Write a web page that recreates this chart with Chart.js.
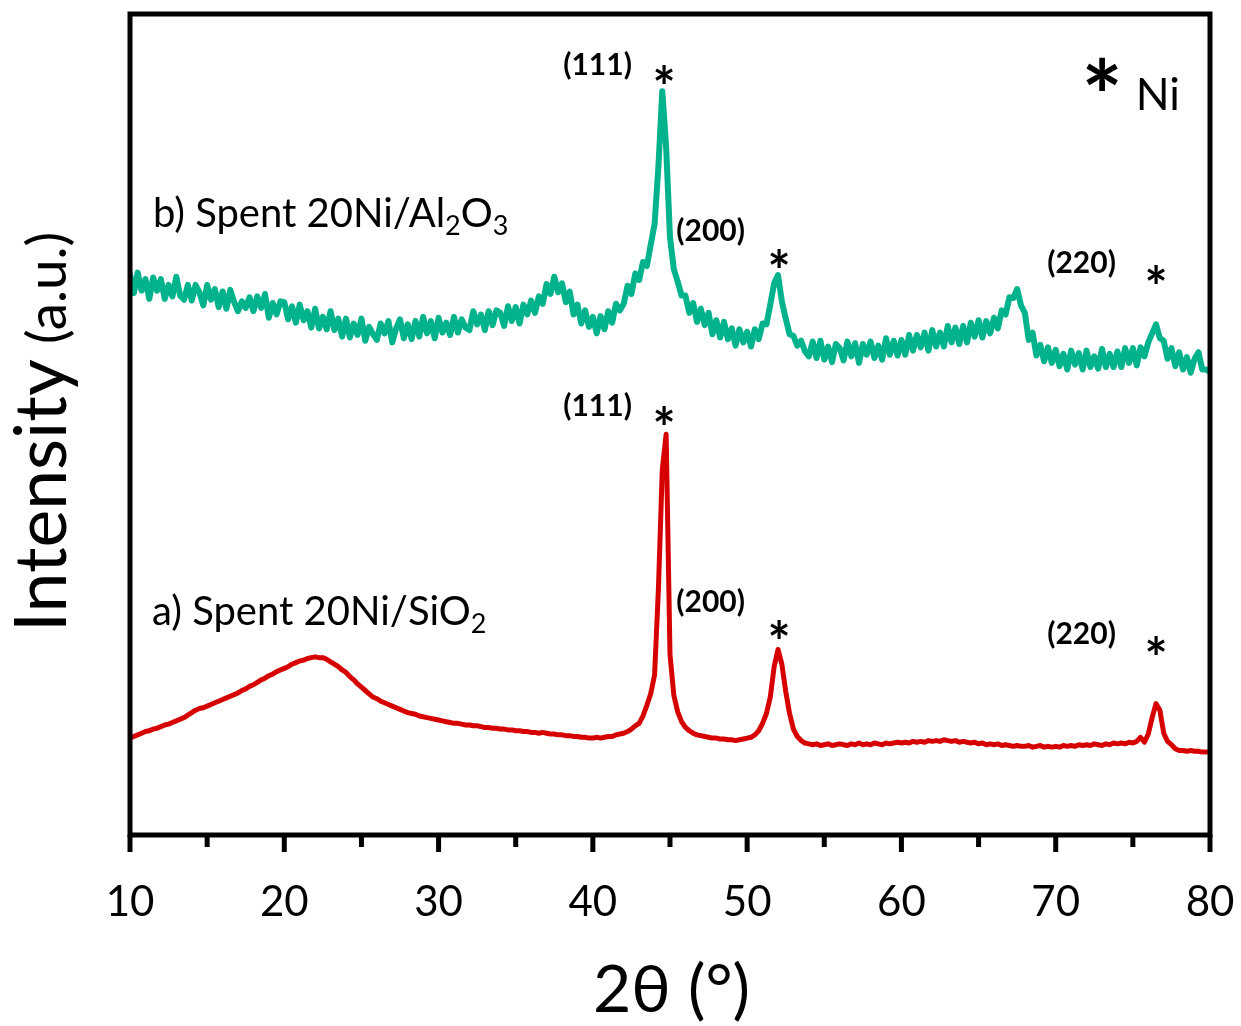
<!DOCTYPE html>
<html><head><meta charset="utf-8">
<script src="https://cdn.jsdelivr.net/npm/chart.js@4.4.1/dist/chart.umd.min.js"></script>
<style>html,body{margin:0;padding:0;background:#fff;}#wrap{position:relative;width:1241px;height:1026px;}</style>
</head><body><div id="wrap"><canvas id="c" width="1241" height="1026"></canvas></div>
<script>
// ---- data ----
const twoThetaStart = 10;
const twoThetaStep = 0.25;
const xMajorTicks = [10, 20, 30, 40, 50, 60, 70, 80];
const xMinorTicks = [15, 25, 35, 45, 55, 65, 75];

// a) Spent 20Ni/SiO2 (red)
const intensityA = [
11.8,12.0,12.2,12.4,12.6,12.7,12.9,13.0,
13.2,13.4,13.5,13.7,13.9,14.1,14.3,14.6,
14.9,15.2,15.4,15.5,15.7,15.9,16.1,16.3,
16.5,16.7,16.9,17.1,17.3,17.6,17.8,18.1,
18.3,18.6,18.9,19.1,19.4,19.6,19.9,20.1,
20.3,20.5,20.8,21.0,21.2,21.3,21.5,21.6,
21.7,21.6,21.6,21.4,21.1,20.8,20.5,20.1,
19.8,19.3,18.9,18.4,18.0,17.6,17.2,16.8,
16.6,16.3,16.1,15.9,15.7,15.5,15.3,15.1,
14.9,14.8,14.7,14.5,14.4,14.3,14.2,14.1,
14.0,13.9,13.8,13.7,13.6,13.6,13.5,13.4,
13.4,13.3,13.3,13.2,13.1,13.1,13.0,13.0,
12.9,12.9,12.8,12.8,12.7,12.7,12.6,12.6,
12.5,12.5,12.4,12.5,12.4,12.3,12.3,12.2,
12.2,12.1,12.1,12.0,12.0,11.9,11.9,11.8,
11.8,11.9,11.8,11.9,12.0,12.0,12.2,12.3,
12.4,12.6,12.9,13.3,13.6,14.5,15.8,17.2,
19.5,30.0,44.5,48.8,22.0,17.0,15.0,13.8,
13.1,12.7,12.4,12.2,12.1,12.0,11.9,11.8,
11.8,11.7,11.7,11.6,11.6,11.5,11.6,11.7,
11.8,11.9,12.2,12.7,13.6,14.8,16.8,20.5,
22.6,20.8,17.5,14.8,12.9,12.0,11.5,11.2,
11.1,11.0,11.1,10.9,11.0,11.1,10.9,11.0,
11.1,11.0,10.9,11.1,11.0,11.2,11.0,11.1,
11.0,11.2,11.1,11.0,11.2,11.1,11.2,11.3,
11.2,11.3,11.2,11.4,11.3,11.4,11.3,11.5,
11.4,11.5,11.4,11.6,11.5,11.4,11.5,11.3,
11.4,11.3,11.2,11.3,11.1,11.2,11.0,11.1,
11.0,11.1,10.9,11.0,10.9,10.8,10.9,10.8,
10.8,10.9,10.7,10.8,10.9,10.7,10.8,10.7,
10.8,10.7,10.9,10.8,10.9,10.8,11.0,10.9,
11.0,10.9,11.1,11.0,10.9,11.1,11.0,11.2,
11.1,11.2,11.1,11.3,11.2,11.4,11.9,11.3,
12.3,14.3,16.0,15.2,12.4,11.4,11.0,10.5,
10.3,10.3,10.2,10.3,10.2,10.2,10.1,10.1,
10.1
];

// b) Spent 20Ni/Al2O3 (green)
const intensityB = [
68.3,66.0,68.5,66.3,67.7,65.3,67.9,66.3,
67.7,65.3,67.0,65.6,68.0,65.7,65.2,67.0,
65.1,67.0,66.1,64.5,67.0,65.2,66.5,64.3,
66.2,64.1,66.4,64.9,63.8,65.0,64.2,65.5,
63.8,65.6,64.2,65.9,63.0,64.8,63.4,65.0,
64.9,62.8,64.4,62.4,64.6,62.7,63.8,61.8,
64.1,61.7,63.1,61.6,63.8,61.5,62.9,60.7,
62.9,60.6,62.3,60.9,62.9,60.2,61.9,61.0,
60.3,62.3,61.1,62.6,60.0,61.7,62.8,60.5,
62.2,60.4,62.6,60.7,63.1,61.1,62.6,60.5,
63.0,61.2,62.4,60.9,63.1,61.2,62.8,61.8,
61.5,63.8,62.2,63.4,61.5,63.8,62.1,63.9,
63.6,62.0,64.4,62.6,64.3,62.3,64.6,63.4,
65.1,63.6,65.6,64.7,67.1,65.9,68.0,66.1,
67.2,64.9,66.2,63.4,64.6,62.3,63.9,61.9,
63.1,61.1,63.2,61.6,63.8,62.4,64.7,63.9,
64.7,66.9,65.9,68.4,67.6,69.8,69.3,71.9,
74.4,81.5,90.6,83.8,72.8,68.9,67.4,65.7,
65.7,63.6,64.8,62.5,64.1,62.1,63.6,61.0,
62.7,60.6,62.5,60.4,61.7,59.6,61.6,60.0,
61.3,59.5,61.6,60.4,62.3,62.2,64.6,67.2,
68.2,65.0,62.9,61.0,60.8,59.6,60.2,58.9,
58.3,60.1,58.1,60.2,57.9,59.5,57.6,59.8,
59.3,57.8,60.1,58.3,59.9,57.5,59.8,58.5,
60.1,58.1,59.6,57.9,60.5,58.5,60.2,58.4,
60.3,58.5,60.9,59.0,60.9,59.4,61.2,59.0,
61.5,59.5,61.2,59.5,62.0,60.0,61.8,59.8,
62.0,60.0,62.4,60.7,62.7,60.6,62.6,61.1,
63.0,61.7,63.9,63.4,65.5,65.4,66.5,64.5,
63.6,60.3,61.2,58.4,59.7,57.7,59.4,57.5,
59.1,57.1,58.6,56.7,59.0,57.3,58.7,56.7,
59.0,57.0,58.3,56.8,59.2,57.0,58.6,57.0,
58.9,57.0,59.3,57.5,59.3,57.2,59.4,58.3,
60.0,61.1,62.2,60.5,60.2,58.0,59.3,57.1,
58.8,56.7,58.2,56.3,58.0,58.8,56.7,56.7,
56.4
];

const seriesLabelA = [{t: 'a) Spent 20Ni/SiO'}, {t: '2', sub: true}];
const seriesLabelB = [{t: 'b) Spent 20Ni/Al'}, {t: '2', sub: true}, {t: 'O'}, {t: '3', sub: true}];

// peak annotations, anchored at (2θ, intensity)
const peakNotes = [
  {text: '(111)', x: 40.33, y: 93.73, kind: 'hkl'},
  {text: '*',     x: 44.61, y: 92.69, kind: 'star'},
  {text: '(200)', x: 47.66, y: 73.57, kind: 'hkl'},
  {text: '*',     x: 52.06, y: 70.22, kind: 'star'},
  {text: '(220)', x: 71.70, y: 69.67, kind: 'hkl'},
  {text: '*',     x: 76.50, y: 68.21, kind: 'star'},
  {text: '(111)', x: 40.33, y: 52.31, kind: 'hkl'},
  {text: '*',     x: 44.61, y: 51.10, kind: 'star'},
  {text: '(200)', x: 47.66, y: 28.38, kind: 'hkl'},
  {text: '*',     x: 52.06, y: 25.03, kind: 'star'},
  {text: '(220)', x: 71.70, y: 24.48, kind: 'hkl'},
  {text: '*',     x: 76.50, y: 23.08, kind: 'star'}
];

const FONT = 'Lato, "Open Sans", sans-serif';

function toPoints(arr){ return arr.map((v, i) => ({x: twoThetaStart + i * twoThetaStep, y: v})); }

function inkCentered(ctx, text, font, cx, cy){
  ctx.font = font; ctx.textAlign = 'left'; ctx.textBaseline = 'alphabetic';
  const m = ctx.measureText(text);
  const x = cx - (m.actualBoundingBoxRight - m.actualBoundingBoxLeft) / 2;
  const y = cy + (m.actualBoundingBoxAscent - m.actualBoundingBoxDescent) / 2;
  ctx.fillText(text, x, y);
}
function fitSize(ctx, text, weight, targetW){
  ctx.font = weight + ' 100px ' + FONT;
  const m = ctx.measureText(text);
  const w = m.actualBoundingBoxRight + m.actualBoundingBoxLeft;
  return 100 * targetW / w;
}
function drawParts(ctx, parts, x, y, size, subSize, subDrop){
  ctx.textAlign = 'left'; ctx.textBaseline = 'alphabetic';
  let cx = x;
  parts.forEach(p => {
    ctx.font = (p.sub ? subSize : size) + 'px ' + FONT;
    ctx.fillText(p.t, cx, p.sub ? y + subDrop : y);
    cx += ctx.measureText(p.t).width;
  });
}

const decor = {
  id: 'decor',
  afterDatasetsDraw(chart){
    const ctx = chart.ctx, a = chart.chartArea;
    const xs = chart.scales.x, ys = chart.scales.y;
    ctx.save();
    ctx.fillStyle = '#000'; ctx.strokeStyle = '#000';
    // frame
    ctx.lineWidth = 5;
    ctx.strokeRect(a.left, a.top, a.right - a.left, a.bottom - a.top);
    // ticks
    ctx.lineWidth = 5; ctx.lineCap = 'butt';
    xMajorTicks.forEach(v => { const px = xs.getPixelForValue(v); ctx.beginPath(); ctx.moveTo(px, a.bottom); ctx.lineTo(px, a.bottom + 17); ctx.stroke(); });
    xMinorTicks.forEach(v => { const px = xs.getPixelForValue(v); ctx.beginPath(); ctx.moveTo(px, a.bottom); ctx.lineTo(px, a.bottom + 12); ctx.stroke(); });
    // peak notes
    const starSize = fitSize(ctx, '*', 'bold', 18);
    peakNotes.forEach(n => {
      const px = xs.getPixelForValue(n.x), py = ys.getPixelForValue(n.y);
      if (n.kind === 'hkl') inkCentered(ctx, n.text, 'bold 30px ' + FONT, px, py);
      else inkCentered(ctx, n.text, 'bold ' + starSize + 'px ' + FONT, px, py);
    });
    // legend "* Ni"
    const bigStar = fitSize(ctx, '*', 'bold', 32);
    inkCentered(ctx, '*', 'bold ' + bigStar + 'px ' + FONT, xs.getPixelForValue(73.0), ys.getPixelForValue(92.69));
    const niSize = fitSize(ctx, 'Ni', '', 38);
    inkCentered(ctx, 'Ni', niSize + 'px ' + FONT, xs.getPixelForValue(76.69), ys.getPixelForValue(90.26));
    // series labels
    drawParts(ctx, seriesLabelB, xs.getPixelForValue(11.49), ys.getPixelForValue(74.06), 40, 27, 8);
    drawParts(ctx, seriesLabelA, xs.getPixelForValue(11.43), ys.getPixelForValue(25.58), 40, 27, 8);
    // x title
    ctx.textAlign = 'left'; ctx.textBaseline = 'alphabetic';
    const s1 = fitSize(ctx, '2θ', '', 72);
    ctx.font = s1 + 'px ' + FONT; ctx.fillText('2θ', 593, 1012);
    const s2 = fitSize(ctx, '(°)', '', 57);
    ctx.font = s2 + 'px ' + FONT; ctx.fillText('(°)', 688, 1012);
    // y title
    ctx.translate(66, 632); ctx.rotate(-Math.PI / 2);
    const s3 = fitSize(ctx, 'Intensity', '', 266);
    ctx.font = s3 + 'px ' + FONT; ctx.fillText('Intensity', 0, 0);
    const s4 = fitSize(ctx, '(a.u.)', '', 108);
    ctx.font = s4 + 'px ' + FONT; ctx.fillText('(a.u.)', 288, 0);
    ctx.restore();
  }
};

new Chart(document.getElementById('c'), {
  type: 'line',
  data: {
    datasets: [
      {label: 'b', data: toPoints(intensityB), borderColor: '#00B38C', borderWidth: 6, pointRadius: 0, tension: 0, borderJoinStyle: 'round', borderCapStyle: 'round'},
      {label: 'a', data: toPoints(intensityA), borderColor: '#D60000', borderWidth: 5, pointRadius: 0, tension: 0, borderJoinStyle: 'round', borderCapStyle: 'round'}
    ]
  },
  options: {
    responsive: false, maintainAspectRatio: false, animation: false,
    layout: {padding: {left: 130, right: 31, top: 14, bottom: 0}},
    plugins: {legend: {display: false}, tooltip: {enabled: false}},
    scales: {
      x: {
        type: 'linear', min: 10, max: 80,
        grid: {display: false}, border: {display: false},
        ticks: {stepSize: 10, color: '#000', font: {family: FONT, size: 42}, padding: 34, maxRotation: 0},
        afterFit: s => { s.height = 191; s.paddingLeft = 0; s.paddingRight = 0; }
      },
      y: {display: false, min: 0, max: 100}
    }
  },
  plugins: [decor]
});
</script></body></html>
